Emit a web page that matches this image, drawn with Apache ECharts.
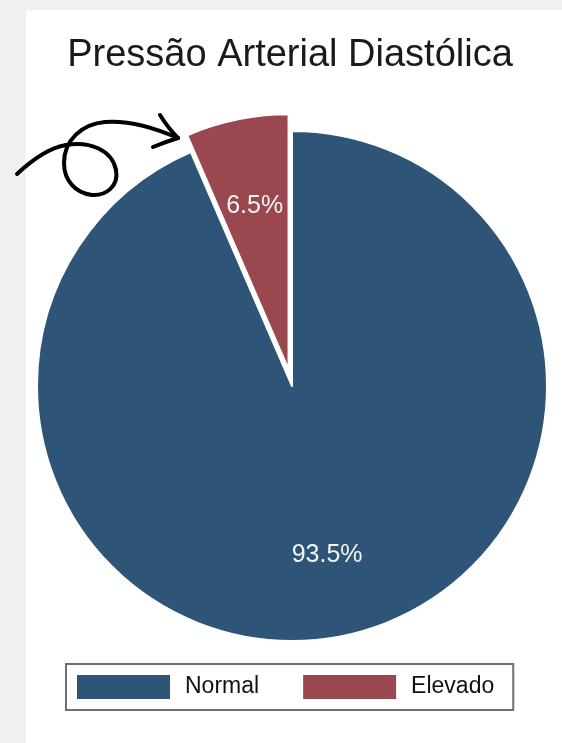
<!DOCTYPE html>
<html>
<head>
<meta charset="utf-8">
<script src="https://cdn.jsdelivr.net/npm/echarts@6/dist/echarts.min.js"></script>
<style>
html,body{margin:0;padding:0;background:#f0eff2;}
#chart{width:562px;height:743px;}
</style>
</head>
<body>
<div id="chart"></div>
<script>
const titleText = 'Pressão Arterial Diastólica';
const categories = ['Normal', 'Elevado'];
const values = [93.5, 6.5];
const sliceColors = ['#2e5578', '#9a4750'];
const explodedCategory = 'Elevado';

const chart = echarts.init(document.getElementById('chart'), null, {renderer: 'canvas'});

const pieCenter = [292, 386];
const pieRadius = 255;
const offset = 17;

const mainData = categories.map((c, i) => ({
  name: c,
  value: values[i],
  selected: c === explodedCategory,
  itemStyle: {color: sliceColors[i]}
}));
const labelData = categories.map((c, i) => ({
  name: c,
  value: values[i],
  selected: c === explodedCategory
}));

// hand-drawn annotation arrow (decorative)
const arrowStyle = {fill: null, stroke: '#000', lineWidth: 4, lineCap: 'round', lineJoin: 'round'};
const arrowSegs = [
  [17,174, 32,160, 48,148, 66,145],
  [66,145, 90,141, 112,150, 116,170],
  [116,170, 119,186, 106,196, 92,195],
  [92,195, 75,193, 64,180, 64,163],
  [64,163, 64,140, 82,124, 105,122],
  [105,122, 130,120, 155,128, 178,138]
];
const arrowGraphics = arrowSegs.map(s => ({
  type: 'bezierCurve', z: 100,
  shape: {x1: s[0], y1: s[1], cpx1: s[2], cpy1: s[3], cpx2: s[4], cpy2: s[5], x2: s[6], y2: s[7]},
  style: arrowStyle
}));
arrowGraphics.push(
  {type: 'bezierCurve', z: 100, shape: {x1: 160, y1: 115, cpx1: 168, cpy1: 128, x2: 178, y2: 138}, style: arrowStyle},
  {type: 'bezierCurve', z: 100, shape: {x1: 178, y1: 138, cpx1: 165, cpy1: 142, x2: 153, y2: 147}, style: arrowStyle}
);

const option = {
  backgroundColor: '#f0eff2',
  animation: false,
  graphic: [
    {type: 'rect', z: -10, shape: {x: 26, y: 10, width: 536, height: 733}, style: {fill: '#ffffff'}}
  ].concat(arrowGraphics),
  title: {
    text: titleText,
    left: 290,
    top: 37,
    padding: 0,
    textAlign: 'center',
    textStyle: {fontFamily: 'Liberation Sans', fontSize: 38, fontWeight: 'normal', color: '#1a1a1a'}
  },
  legend: {
    left: 66,
    top: 664,
    orient: 'horizontal',
    icon: 'rect',
    itemWidth: 93,
    itemHeight: 24,
    itemGap: 44,
    padding: [11, 19, 11, 11],
    borderColor: '#707070',
    borderWidth: 2,
    selectedMode: false,
    data: categories.map((c, i) => ({name: c, itemStyle: {color: sliceColors[i], borderWidth: 0}})),
    textStyle: {fontFamily: 'Liberation Sans', fontSize: 23, color: '#111111', padding: [0, 0, 0, 10]}
  },
  series: [
    {
      type: 'pie',
      center: pieCenter,
      radius: [0, pieRadius],
      startAngle: 90,
      clockwise: true,
      selectedMode: 'single',
      selectedOffset: offset,
      silent: true,
      label: {show: false},
      labelLine: {show: false},
      emphasis: {disabled: true},
      itemStyle: {borderColor: '#ffffff', borderWidth: 2},
      data: mainData
    },
    {
      type: 'pie',
      center: pieCenter,
      radius: [85, pieRadius],
      startAngle: 90,
      clockwise: true,
      selectedMode: 'single',
      selectedOffset: 11,
      silent: true,
      avoidLabelOverlap: false,
      itemStyle: {color: 'rgba(0,0,0,0)', borderWidth: 0},
      emphasis: {disabled: true},
      label: {
        show: true,
        position: 'inside',
        formatter: p => p.value.toFixed(1) + '%',
        fontFamily: 'Liberation Sans',
        fontSize: 25,
        color: '#f4f4f4'
      },
      labelLine: {show: false},
      data: labelData
    }
  ]
};
chart.setOption(option);
</script>
</body>
</html>
